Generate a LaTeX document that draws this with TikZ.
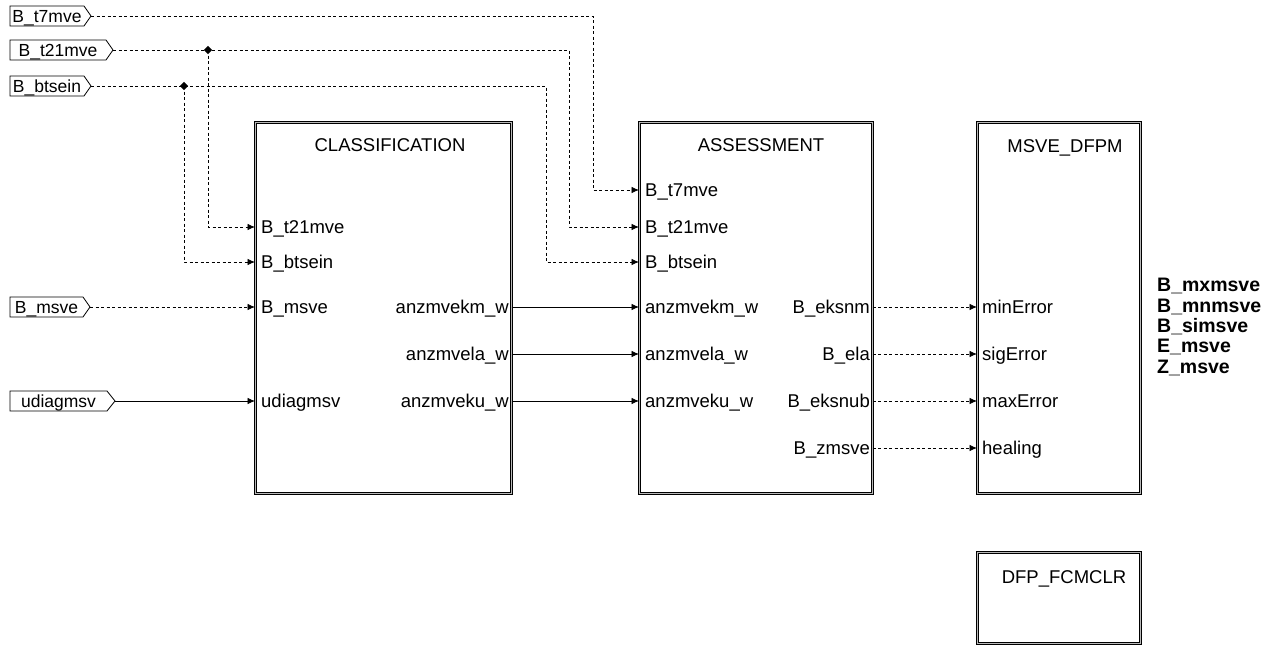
\documentclass[tikz,border=0pt]{standalone}
\usepackage{fontspec}
\setmainfont{Liberation Sans}
\usetikzlibrary{arrows.meta,shapes.geometric}
\begin{document}
\begin{tikzpicture}[x=1pt,y=-1pt,
  font=\fontsize{18.5}{21}\selectfont,
  blk/.style={draw=black,double=gray!55,double distance=1.4pt,line width=0.7pt,inner sep=0,anchor=north west},
  sig/.style={line width=0.8pt,-{Latex[length=7.5pt,width=6.5pt]}},
  dsig/.style={sig,dash pattern=on 3pt off 2.5pt},
  lbl/.style={inner sep=0,text height=13.2pt,text depth=0pt},
  plbl/.style={inner sep=0,text height=12.6pt,text depth=0pt,font=\fontsize{17.5}{20}\selectfont},
  lw/.style={lbl,anchor=west},
  le/.style={lbl,anchor=east},
  portshape/.style={draw=black,line width=0.8pt,fill=white},
  jdot/.style={diamond,fill=black,inner sep=0,minimum size=8.5pt},
  title/.style={lbl,anchor=center}
]
\useasboundingbox (0,0) rectangle (1279,645);

% ---- blocks
\node[blk,minimum width=256pt,minimum height=371pt] (cls) at (255,122) {};
\node[blk,minimum width=233pt,minimum height=371pt] (as) at (639,122) {};
\node[blk,minimum width=163pt,minimum height=371pt] (ms) at (977,122) {};
\node[blk,minimum width=163pt,minimum height=91pt] (dfp) at (977,552) {};

\node[title] (clsT) at (390,145) {CLASSIFICATION};
\node[title] (asT) at (761,145) {ASSESSMENT};
\node[title] (msT) at (1065,146) {MSVE\_DFPM};
\node[title] (dfpT) at (1064,577) {DFP\_FCMCLR};

% ---- input ports
\draw[portshape] (10,6) -- (84,6) -- (91,16) -- (84,26) -- (10,26) -- cycle;
\node[plbl] (p1) at (47,16) {B\_t7mve};
\coordinate (p1t) at (91,16);
\draw[portshape] (10,40) -- (106,40) -- (113,50) -- (106,60) -- (10,60) -- cycle;
\node[plbl] (p2) at (58,50) {B\_t21mve};
\coordinate (p2t) at (113,50);
\draw[portshape] (10,76) -- (84,76) -- (91,86) -- (84,96) -- (10,96) -- cycle;
\node[plbl] (p3) at (47,86) {B\_btsein};
\coordinate (p3t) at (91,86);
\draw[portshape] (10,297) -- (83,297) -- (90,307) -- (83,317) -- (10,317) -- cycle;
\node[plbl] (p4) at (46.5,307) {B\_msve};
\coordinate (p4t) at (90,307);
\draw[portshape] (10,391) -- (107,391) -- (115,401) -- (107,411) -- (10,411) -- cycle;
\node[plbl] (p5) at (58.5,401) {udiagmsv};
\coordinate (p5t) at (115,401);

% ---- CLASSIFICATION ports
\node[lw] (c1) at (261,227) {B\_t21mve};
\node[lw] (c2) at (261,262) {B\_btsein};
\node[lw] (c3) at (261,307) {B\_msve};
\node[lw] (c4) at (261,401) {udiagmsv};
\node[le] (co1) at (509,307) {anzmvekm\_w};
\node[le] (co2) at (509,354) {anzmvela\_w};
\node[le] (co3) at (509,401) {anzmveku\_w};

% ---- ASSESSMENT ports
\node[lw] (a0) at (645,190) {B\_t7mve};
\node[lw] (a1) at (645,227) {B\_t21mve};
\node[lw] (a2) at (645,262) {B\_btsein};
\node[lw] (a3) at (645,307) {anzmvekm\_w};
\node[lw] (a4) at (645,354) {anzmvela\_w};
\node[lw] (a5) at (645,401) {anzmveku\_w};
\node[le] (ao1) at (870,307) {B\_eksnm};
\node[le] (ao2) at (870,354) {B\_ela};
\node[le] (ao3) at (870,401) {B\_eksnub};
\node[le] (ao4) at (870,448) {B\_zmsve};

% ---- MSVE_DFPM ports
\node[lw] (m1) at (982,307) {minError};
\node[lw] (m2) at (982,354) {sigError};
\node[lw] (m3) at (982,401) {maxError};
\node[lw] (m4) at (982,448) {healing};

% ---- output list
\node[anchor=west,align=left,inner sep=0,font=\fontsize{19.5}{20.3}\selectfont\bfseries] (outs) at (1157,327)
  {B\_mxmsve\\B\_mnmsve\\B\_simsve\\E\_msve\\Z\_msve};

% ---- junctions
\coordinate (j1) at (208,50);
\coordinate (j2) at (184,86);

% ---- connectors
\draw[dsig] (p1t) -- (593,16) |- (as.west |- a0);
\draw[dsig] (p2t) -- (569,50) |- (as.west |- a1);
\draw[dsig] (p3t) -- (546,86) |- (as.west |- a2);
\draw[dsig] (j1) |- (cls.west |- c1);
\draw[dsig] (j2) |- (cls.west |- c2);
\draw[dsig] (p4t) -- (cls.west |- c3);
\draw[sig] (p5t) -- (cls.west |- c4);

\draw[sig] (cls.east |- co1) -- (as.west |- a3);
\draw[sig] (cls.east |- co2) -- (as.west |- a4);
\draw[sig] (cls.east |- co3) -- (as.west |- a5);

\draw[dsig] (as.east |- ao1) -- (ms.west |- m1);
\draw[dsig] (as.east |- ao2) -- (ms.west |- m2);
\draw[dsig] (as.east |- ao3) -- (ms.west |- m3);
\draw[dsig] (as.east |- ao4) -- (ms.west |- m4);

\node[jdot] (jd1) at (j1) {};
\node[jdot] (jd2) at (j2) {};
\end{tikzpicture}
\end{document}
